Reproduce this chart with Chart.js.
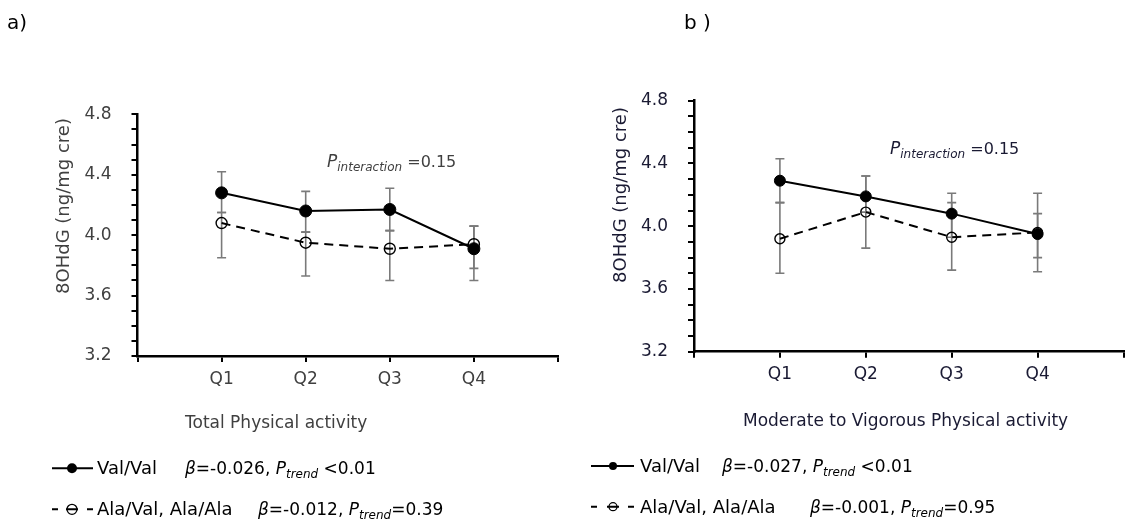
<!DOCTYPE html>
<html>
<head>
<meta charset="utf-8">
<script src="https://cdn.jsdelivr.net/npm/chart.js@4.4.1/dist/chart.umd.min.js"></script>
<style>
html, body { margin: 0; padding: 0; background: #fff; }
#wrap { position: relative; width: 1130px; height: 519px; overflow: hidden; }
canvas { position: absolute; top: 0; }
#chartA { left: 0; }
#chartB { left: 565px; }
.tag { position: absolute; font: 20px "DejaVu Sans", sans-serif; color: #000; line-height: 23px; }
</style>
</head>
<body>
<div id="wrap">
  <canvas id="chartA" width="565" height="519"></canvas>
  <canvas id="chartB" width="565" height="519"></canvas>
  <div class="tag" style="left:7px; top:11px">a)</div>
  <div class="tag" style="left:684px; top:11px">b )</div>
</div>
<script>
const quarters = ['Q1', 'Q2', 'Q3', 'Q4'];
const seriesNames = ['Val/Val', 'Ala/Val, Ala/Ala'];
const yTitle = '8OHdG (ng/mg cre)';

// a) total physical activity
const totalTitle = 'Total Physical activity';
const totalValVal = [4.28, 4.16, 4.17, 3.91];
const totalValValLow = [4.15, 4.02, 4.03, 3.78];
const totalValValHigh = [4.42, 4.29, 4.31, 4.06];
const totalAla = [4.08, 3.95, 3.91, 3.94];
const totalAlaLow = [3.85, 3.73, 3.70, 3.70];
const totalAlaHigh = [4.15, 4.02, 4.03, 4.06];
const totalBeta = ['-0.026', '-0.012'];
const totalPtrend = [' <0.01', '=0.39'];
const totalPint = '0.15';

// b) moderate to vigorous physical activity
const mvpaTitle = 'Moderate to Vigorous Physical activity';
const mvpaValVal = [4.29, 4.19, 4.08, 3.95];
const mvpaValValLow = [4.15, 4.09, 3.93, 3.80];
const mvpaValValHigh = [4.43, 4.32, 4.21, 4.08];
const mvpaAla = [3.92, 4.09, 3.93, 3.96];
const mvpaAlaLow = [3.70, 3.86, 3.72, 3.71];
const mvpaAlaHigh = [4.15, 4.32, 4.15, 4.21];
const mvpaBeta = ['-0.027', '-0.001'];
const mvpaPtrend = [' <0.01', '=0.95'];
const mvpaPint = '0.15';

const FONT = '"DejaVu Sans", sans-serif';

function toPoints(vals) {
    return vals.map((v, i) => ({ x: i + 1, y: v }));
}

// draws a run of text pieces, some italic / subscript
function rich(ctx, x, y, parts, color) {
    ctx.save();
    ctx.fillStyle = color;
    ctx.textAlign = 'left';
    ctx.textBaseline = 'alphabetic';
    parts.forEach(p => {
        ctx.font = (p.i ? 'italic ' : '') + p.s + 'px ' + FONT;
        ctx.fillText(p.t, x, y + (p.dy || 0));
        x += ctx.measureText(p.t).width;
    });
    ctx.restore();
}

const errorBars = {
    id: 'errorBars',
    beforeDatasetsDraw(chart) {
        const { ctx, scales: { x, y } } = chart;
        ctx.save();
        ctx.strokeStyle = '#7a7a7a';
        ctx.lineWidth = 1.6;
        chart.data.datasets.forEach(ds => {
            ds.data.forEach((p, i) => {
                const px = x.getPixelForValue(p.x);
                const top = y.getPixelForValue(ds.errHigh[i]);
                const bot = y.getPixelForValue(ds.errLow[i]);
                ctx.beginPath();
                ctx.moveTo(px, top); ctx.lineTo(px, bot);
                ctx.moveTo(px - 4.5, top); ctx.lineTo(px + 4.5, top);
                ctx.moveTo(px - 4.5, bot); ctx.lineTo(px + 4.5, bot);
                ctx.stroke();
            });
        });
        ctx.restore();
    }
};

const figText = {
    id: 'figText',
    afterDraw(chart, args, o) {
        const ctx = chart.ctx;
        // y title
        ctx.save();
        ctx.translate(o.yTitle.x, o.yTitle.y);
        ctx.rotate(-Math.PI / 2);
        ctx.fillStyle = o.color;
        ctx.font = '18px ' + FONT;
        ctx.textAlign = 'center';
        ctx.textBaseline = 'middle';
        ctx.fillText(yTitle, 0, 0);
        ctx.restore();
        // x title
        rich(ctx, o.xTitle.x, o.xTitle.y + 6, [{ t: o.xTitle.text, s: 17 }], o.color);
        // P interaction
        rich(ctx, o.pInt.x, o.pInt.y + 6, [
            { t: 'P', s: 17, i: true },
            { t: 'interaction', s: 12, i: true, dy: 4 },
            { t: ' =' + o.pInt.value, s: 16 }
        ], o.color);
        // legend
        const L = o.legend;
        for (let k = 0; k < 2; k++) {
            const y = L.y[k];
            ctx.save();
            ctx.strokeStyle = '#000';
            ctx.lineWidth = 2;
            ctx.beginPath();
            if (k === 0) {
                ctx.moveTo(L.x0, y); ctx.lineTo(L.x1, y);
            } else {
                ctx.moveTo(L.x0, y); ctx.lineTo(L.x0 + 6, y);
                ctx.moveTo(L.mx - 6, y); ctx.lineTo(L.mx + 6, y);
                ctx.moveTo(L.x1 - 6, y); ctx.lineTo(L.x1, y);
            }
            ctx.stroke();
            ctx.beginPath();
            ctx.arc(L.mx, y, L.r, 0, Math.PI * 2);
            if (k === 0) {
                ctx.fillStyle = '#000';
                ctx.fill();
            } else {
                ctx.lineWidth = 1.3;
                ctx.stroke();
            }
            ctx.restore();
            rich(ctx, L.tx, y + 6, [{ t: seriesNames[k], s: 18 }], '#000');
            rich(ctx, L.bx[k], y + 6, [
                { t: 'β', s: 17, i: true },
                { t: '=' + L.beta[k] + ', ', s: 17 },
                { t: 'P', s: 17, i: true },
                { t: 'trend', s: 12, i: true, dy: 4 },
                { t: L.ptrend[k], s: 17 }
            ], '#000');
        }
    }
};

function makeChart(id, p) {
    const axisFont = { family: FONT, size: 17 };
    return new Chart(document.getElementById(id), {
        type: 'line',
        data: {
            datasets: [
                {
                    label: seriesNames[0],
                    data: toPoints(p.val),
                    errLow: p.valLow,
                    errHigh: p.valHigh,
                    borderColor: '#000',
                    borderWidth: 2,
                    pointRadius: p.r,
                    pointBackgroundColor: '#000',
                    pointBorderColor: '#000',
                    pointBorderWidth: 1
                },
                {
                    label: seriesNames[1],
                    data: toPoints(p.ala),
                    errLow: p.alaLow,
                    errHigh: p.alaHigh,
                    borderColor: '#000',
                    borderWidth: 2,
                    borderDash: [9, 6],
                    pointRadius: p.r - 0.5,
                    pointBackgroundColor: 'rgba(0,0,0,0)',
                    pointBorderColor: '#000',
                    pointBorderWidth: 1.4
                }
            ]
        },
        options: {
            responsive: false,
            animation: false,
            devicePixelRatio: 1,
            layout: { padding: p.pad },
            scales: {
                x: {
                    type: 'linear',
                    min: 0,
                    max: 5,
                    afterBuildTicks: s => { s.ticks = [0, 1, 2, 3, 4, 5].map(v => ({ value: v })); },
                    ticks: {
                        autoSkip: false,
                        maxRotation: 0,
                        padding: 7,
                        color: p.color,
                        font: axisFont,
                        callback: v => quarters[v - 1] || ''
                    },
                    grid: { drawOnChartArea: false, tickLength: 6, color: '#000', lineWidth: 2 },
                    border: { color: '#000', width: 2.5 },
                    afterFit: s => { s.height = 80; s.paddingRight = 0; }
                },
                y: {
                    min: 3.2,
                    max: 4.8,
                    ticks: {
                        stepSize: 0.1,
                        autoSkip: false,
                        padding: 20,
                        color: p.color,
                        font: axisFont,
                        callback: v => {
                            const k = Math.round(v * 10);
                            return k % 4 === 0 ? (k / 10).toFixed(1) : '';
                        }
                    },
                    grid: { drawOnChartArea: false, tickLength: 6, color: '#000', lineWidth: 2 },
                    border: { color: '#000', width: 2.5 },
                    afterFit: s => { s.width = p.yWidth; }
                }
            },
            plugins: {
                legend: { display: false },
                tooltip: { enabled: false },
                figText: p.text
            }
        },
        plugins: [errorBars, figText]
    });
}

makeChart('chartA', {
    val: totalValVal, valLow: totalValValLow, valHigh: totalValValHigh,
    ala: totalAla, alaLow: totalAlaLow, alaHigh: totalAlaHigh,
    r: 6,
    color: '#404040',
    pad: { left: 44, top: 114.3, right: 7, bottom: 83 },
    yWidth: 93.5,
    text: {
        color: '#404040',
        yTitle: { x: 64, y: 206 },
        xTitle: { text: totalTitle, x: 185, y: 421.7 },
        pInt: { x: 327, y: 161, value: totalPint },
        legend: {
            x0: 52, x1: 93, mx: 72, r: 5, tx: 97, bx: [185, 258], y: [468.3, 509.3],
            beta: totalBeta, ptrend: totalPtrend
        }
    }
});

makeChart('chartB', {
    val: mvpaValVal, valLow: mvpaValValLow, valHigh: mvpaValValHigh,
    ala: mvpaAla, alaLow: mvpaAlaLow, alaHigh: mvpaAlaHigh,
    r: 5.5,
    color: '#1a1a33',
    pad: { left: 36, top: 100.7, right: 0, bottom: 87.3 },
    yWidth: 93,
    text: {
        color: '#1a1a33',
        yTitle: { x: 56, y: 195 },
        xTitle: { text: mvpaTitle, x: 178, y: 420 },
        pInt: { x: 325, y: 148, value: mvpaPint },
        legend: {
            x0: 26, x1: 69, mx: 48, r: 4, tx: 75, bx: [157, 245], y: [466, 506.7],
            beta: mvpaBeta, ptrend: mvpaPtrend
        }
    }
});
</script>
</body>
</html>
